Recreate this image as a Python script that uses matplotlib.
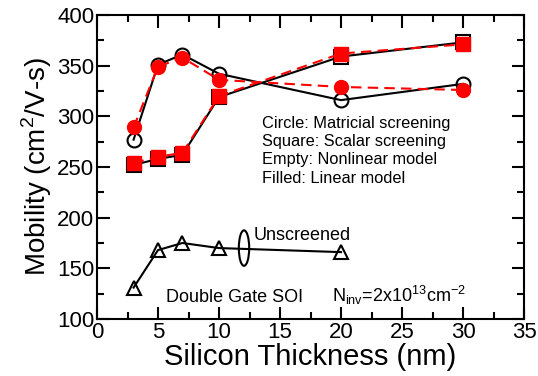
import numpy as np
import matplotlib.pyplot as plt
from matplotlib.patches import Ellipse

# ── Data ──────────────────────────────────────────────────────────────────
t_si = [3, 5, 7, 10, 20, 30]
mat_nonlin = [277, 351, 361, 342, 316, 332]   # open circles
mat_lin = [289, 349, 358, 336, 329, 326]      # filled circles
sca_nonlin = [252, 258, 262, 319, 359, 373]   # open squares
sca_lin = [254, 260, 264, 320, 362, 371]      # filled squares
t_unscr = [3, 5, 7, 10, 20]
unscr = [131, 168, 175, 170, 166]             # triangles

plt.rcParams.update({"font.family": ["Liberation Sans", "DejaVu Sans"],
                     "mathtext.fontset": "custom", "mathtext.rm": "Liberation Sans"})
fig = plt.figure(figsize=(5.38, 3.76), dpi=100)
ax = fig.add_axes([97/538, 57/376, 427/538, 304/376])

ms = 10
ax.plot(t_si, sca_nonlin, "-", color="black", lw=1.5, marker="s", ms=ms,
        mfc="none", mec="black", mew=1.5)
ax.plot(t_si, mat_nonlin, "-", color="black", lw=1.5, marker="o", ms=ms,
        mfc="none", mec="black", mew=1.5)
ax.plot(t_si, sca_lin, "--", color="red", lw=1.5, marker="s", ms=ms,
        mfc="red", mec="red", dashes=(5, 3))
ax.plot(t_si, mat_lin, "--", color="red", lw=1.5, marker="o", ms=ms,
        mfc="red", mec="red", dashes=(5, 3))
ax.plot(t_unscr, unscr, "-", color="black", lw=1.5, marker="^", ms=ms,
        mfc="none", mec="black", mew=1.5)

ax.add_patch(Ellipse((12.05, 170), 0.85, 35, fill=False, ec="black", lw=1.5))

fs = 11.8
ax.text(13.5, 293, "Circle: Matricial screening", fontsize=fs, va="center")
ax.text(13.5, 275, "Square: Scalar screening", fontsize=fs, va="center")
ax.text(13.5, 257, "Empty: Nonlinear model", fontsize=fs, va="center")
ax.text(13.5, 239, "Filled: Linear model", fontsize=fs, va="center")
ax.text(12.8, 182, "Unscreened", fontsize=13, va="center")
ax.text(5.65, 121, "Double Gate SOI", fontsize=13, va="center")
ax.text(19.3, 123, r"N$_{\rm inv}$=2x10$^{13}$cm$^{-2}$", fontsize=13, va="center")

ax.set_xlim(0, 35)
ax.set_ylim(100, 400)
ax.set_xticks(np.arange(0, 36, 5))
ax.set_yticks(np.arange(100, 401, 50))
ax.set_xticks(np.arange(0, 36, 2.5), minor=True)
ax.set_yticks(np.arange(100, 401, 25), minor=True)
ax.tick_params(which="both", direction="in", top=True, right=True, width=1.5)
ax.tick_params(which="major", length=9, labelsize=16, pad=2)
ax.tick_params(which="minor", length=5)
for s in ax.spines.values():
    s.set_linewidth(1.5)

ax.set_xlabel("Silicon Thickness (nm)", fontsize=21, labelpad=0)
ax.set_ylabel(r"Mobility (cm$^2$/V-s)", fontsize=20, labelpad=2)

fig.savefig("out.png", dpi=100)
